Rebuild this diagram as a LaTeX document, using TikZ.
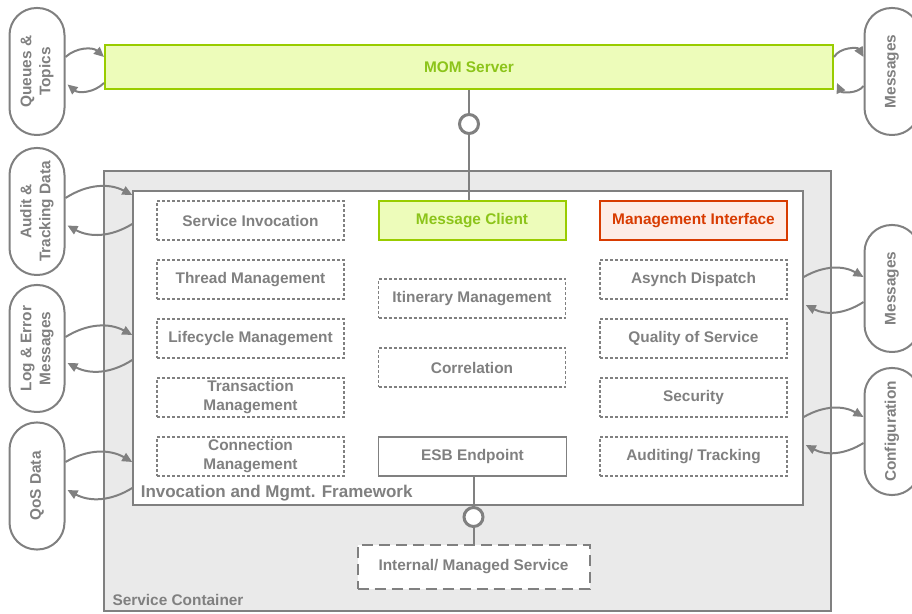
\documentclass[tikz,border=0pt]{standalone}
\usepackage{fontspec}
\setmainfont{Liberation Sans}
\usepackage{graphicx}
\usetikzlibrary{arrows.meta,calc}
\definecolor{ink}{HTML}{808080}
\definecolor{shade}{HTML}{EAEAEA}
\definecolor{lime}{HTML}{99CC00}
\definecolor{limetext}{HTML}{8CC41A}
\definecolor{limefill}{HTML}{EDFCBA}
\definecolor{rust}{HTML}{D83B01}
\definecolor{rustfill}{HTML}{FDECE6}
\tikzset{>={Triangle[length=10pt,width=9pt]},
  every node/.style={font=\bfseries\fontsize{15.4}{19}\selectfont,text=ink},
  container/.style={draw=ink,line width=2pt,fill=shade},
  framework/.style={draw=ink,line width=1.5pt,fill=white},
  part/.style={draw=ink,line width=1.5pt,dash pattern=on 3pt off 2pt,
    minimum width=187,minimum height=39,align=center,inner sep=1pt},
  endpoint/.style={draw=ink,line width=1.8pt,fill=white,minimum width=188,minimum height=39},
  limebox/.style={draw=lime,line width=2pt,fill=limefill,text=limetext},
  rustbox/.style={draw=rust,line width=2pt,fill=rustfill,text=rust,
    minimum width=187,minimum height=39},
  service/.style={draw=ink,line width=2pt,dash pattern=on 11pt off 6pt,fill=white,
    minimum width=232,minimum height=44},
  pill/.style={draw=ink,line width=2pt,rounded corners=27pt,fill=white,
    minimum width=55,minimum height=127,inner sep=0pt},
  socket/.style={circle,draw=ink,line width=3pt,fill=white,minimum size=19pt,inner sep=0pt},
  wire/.style={draw=ink,line width=2pt},
  flow/.style={->,draw=ink,line width=2pt,bend left=30}}

\begin{document}
\begin{tikzpicture}[x=1pt,y=1pt]
\useasboundingbox (0,0) rectangle (912,613);
% containers
\node[container,minimum width=727,minimum height=440] (sc) at (467.5,222) {};
\node[anchor=base west] (sclabel) at ($(sc.south west)+(6,7)$) {Service Container};
\node[framework,minimum width=670,minimum height=314] (fw) at (468,265) {};
\node[anchor=base west,font=\bfseries\fontsize{17}{20}\selectfont] (fwlabel)
  at ($(fw.south west)+(5,8)$) {Invocation and Mgmt. Framework};
\node[limebox,minimum width=728,minimum height=44] (mom) at (469,546) {MOM Server};
% framework parts
\node[part] (si)  at (250.5,392.5) {Service Invocation};
\node[part] (tm)  at (250.5,333.5) {Thread Management};
\node[part] (lm)  at (250.5,274.5) {Lifecycle Management};
\node[part] (txm) at (250.5,215.5) {Transaction\\Management};
\node[part] (cm)  at (250.5,156.5) {Connection\\Management};
\node[part,limebox,solid,line width=2pt] (mc) at (472,392.5) {Message Client};
\node[part] (im)  at (472,314.5) {Itinerary Management};
\node[part] (cor) at (472,245.5) {Correlation};
\node[endpoint] (esb) at (472.5,156.5) {ESB Endpoint};
\node[rustbox] (mi)  at (693.5,392.5) {Management Interface};
\node[part] (ad)  at (693.5,333.5) {Asynch Dispatch};
\node[part] (qos) at (693.5,274.5) {Quality of Service};
\node[part] (sec) at (693.5,215.5) {Security};
\node[part] (trk) at (693.5,156.5) {Auditing/ Tracking};
\node[service] (intsvc) at (473.5,46) {Internal/ Managed Service};
% sockets
\node[socket] (momsock) at (469,489) {};
\node[socket] (esbsock) at (473.5,96) {};
\draw[wire] (mom) -- (momsock) -- (momsock |- mc.north);
\draw[wire] (esbsock |- esb.south) -- (esbsock) -- (esbsock |- intsvc.north);
% outside resources
\node[pill] (qt)   at (37,541.5) {\rotatebox{90}{\begin{tabular}{@{}c@{}}Queues \&\\Topics\end{tabular}}};
\node[pill] (atd)  at (37,401.5) {\rotatebox{90}{\begin{tabular}{@{}c@{}}Audit \&\\Tracking Data\end{tabular}}};
\node[pill] (lem)  at (37,264.5) {\rotatebox{90}{\begin{tabular}{@{}c@{}}Log \& Error\\Messages\end{tabular}}};
\node[pill] (qosd) at (37,127) {\rotatebox{90}{QoS Data}};
\node[pill] (msgt) at (892,541.5) {\rotatebox{90}{Messages}};
\node[pill] (msgs) at (892,324.5) {\rotatebox{90}{Messages}};
\node[pill] (cfg)  at (892,181.5) {\rotatebox{90}{Configuration}};
% exchanges
\draw[flow,bend left=42] ($(qt.east)+(0,14.5)$) to ($(mom.west)+(0,10)$);
\draw[flow,bend left=42] ($(mom.west)+(0,-16)$) to ($(qt.east)+(2,-13)$);
\draw[flow,bend left=60] ($(mom.east)+(0,10)$) to ($(msgt.west)+(0,14.5)$);
\draw[flow,bend left=60] ($(msgt.west)+(0,-14.5)$) to ($(mom.east)+(3,-16)$);
\draw[flow] ($(atd.east)+(0,13.5)$) to ($(atd.east -| fw.west)+(0,16.5)$);
\draw[flow] ($(atd.east -| fw.west)+(0,-12.5)$) to ($(atd.east)+(2,-14)$);
\draw[flow] ($(lem.east)+(0,11.5)$) to ($(lem.east -| fw.west)+(0,13.5)$);
\draw[flow] ($(lem.east -| fw.west)+(0,-11.5)$) to ($(lem.east)+(2,-14.5)$);
\draw[flow] ($(qosd.east)+(0,24)$) to ($(qosd.east -| fw.west)+(0,24)$);
\draw[flow] ($(qosd.east -| fw.west)+(0,-2)$) to ($(qosd.east)+(2,-4)$);
\draw[flow] ($(msgs.west -| fw.east)+(0,11.5)$) to ($(msgs.west)+(0,11.5)$);
\draw[flow] ($(msgs.west)+(0,-13.5)$) to ($(msgs.west -| fw.east)+(2,-16.5)$);
\draw[flow] ($(cfg.west -| fw.east)+(0,14.5)$) to ($(cfg.west)+(0,14.5)$);
\draw[flow] ($(cfg.west)+(0,-11.5)$) to ($(cfg.west -| fw.east)+(2,-13.5)$);
\end{tikzpicture}
\end{document}
